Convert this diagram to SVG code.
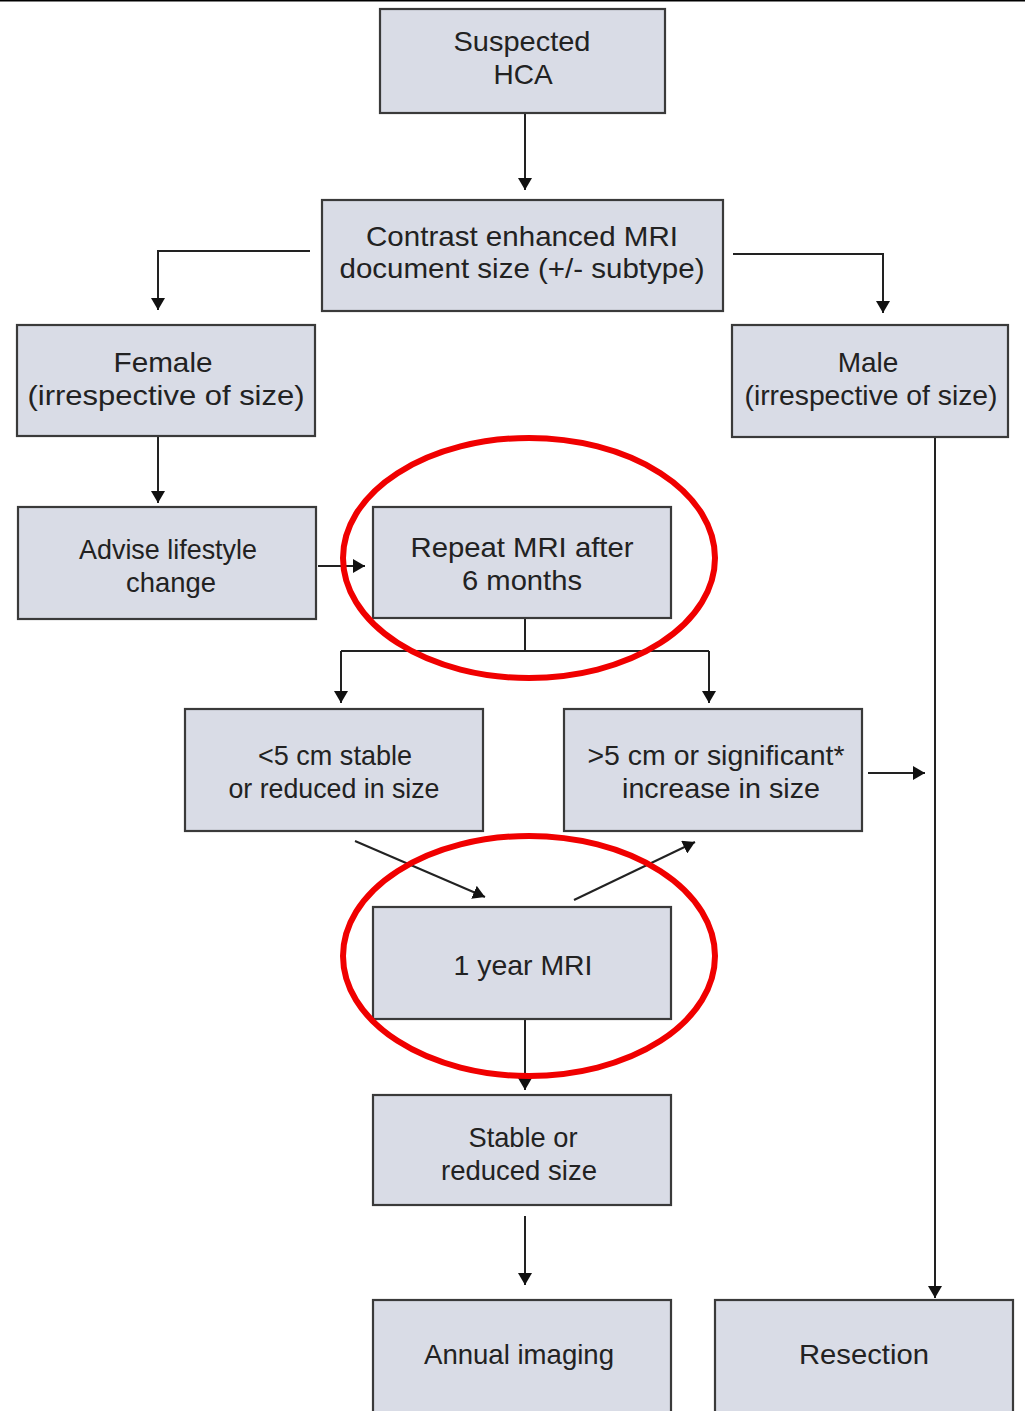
<svg xmlns="http://www.w3.org/2000/svg" width="1025" height="1411" viewBox="0 0 1025 1411">
<style>
.box{fill:#d9dce6;stroke:#3a3a3a;stroke-width:2.2}
.t{font-family:"Liberation Sans",Arial,sans-serif;font-size:28px;fill:#222;text-anchor:middle}
.c{fill:none;stroke:#222;stroke-width:2}
.ring{fill:none;stroke:#f00000;stroke-width:6}
</style>
<defs>
<marker id="ah" viewBox="0 0 12 14" refX="12" refY="7" markerWidth="12" markerHeight="14" markerUnits="userSpaceOnUse" orient="auto">
<path d="M0,0 L12,7 L0,14 Z" fill="#111"/>
</marker>
</defs>
<rect width="1025" height="1411" fill="#fff"/>
<line x1="0" y1="0.5" x2="1025" y2="0.5" stroke="#000" stroke-width="2"/>
<g id="connectors">
<path class="c" d="M525,114 V190" marker-end="url(#ah)"/>
<path class="c" d="M310,251 H158 V310" marker-end="url(#ah)"/>
<path class="c" d="M733,254 H883 V313" marker-end="url(#ah)"/>
<path class="c" d="M158,437 V503" marker-end="url(#ah)"/>
<path class="c" d="M318,566 H365" marker-end="url(#ah)"/>
<path class="c" d="M525,619 V651 M341,651 H709"/>
<path class="c" d="M341,651 V703" marker-end="url(#ah)"/>
<path class="c" d="M709,651 V703" marker-end="url(#ah)"/>
<path class="c" d="M868,773 H925" marker-end="url(#ah)"/>
<path class="c" d="M935,437 V1298" marker-end="url(#ah)"/>
<path class="c" d="M355,841 L485,897" marker-end="url(#ah)"/>
<path class="c" d="M574,900 L695,842" marker-end="url(#ah)"/>
<path class="c" d="M525,1020 V1090" marker-end="url(#ah)"/>
<path class="c" d="M525,1216 V1285" marker-end="url(#ah)"/>
</g>
<g id="n1"><rect class="box" x="380" y="9" width="285" height="104"/><text class="t" x="522" y="51" textLength="137" lengthAdjust="spacingAndGlyphs">Suspected</text><text class="t" x="523" y="84">HCA</text></g>
<g id="n2"><rect class="box" x="322" y="200" width="401" height="111"/><text class="t" x="522" y="246" textLength="312" lengthAdjust="spacingAndGlyphs">Contrast enhanced MRI</text><text class="t" x="522" y="278" textLength="365" lengthAdjust="spacingAndGlyphs">document size (+/- subtype)</text></g>
<g id="n3"><rect class="box" x="17" y="325" width="298" height="111"/><text class="t" x="163" y="372" textLength="99" lengthAdjust="spacingAndGlyphs">Female</text><text class="t" x="166" y="405" textLength="277" lengthAdjust="spacingAndGlyphs">(irrespective of size)</text></g>
<g id="n4"><rect class="box" x="732" y="325" width="276" height="112"/><text class="t" x="868" y="372">Male</text><text class="t" x="871" y="405" textLength="253" lengthAdjust="spacingAndGlyphs">(irrespective of size)</text></g>
<g id="n5"><rect class="box" x="18" y="507" width="298" height="112"/><text class="t" x="168" y="559" textLength="178" lengthAdjust="spacingAndGlyphs">Advise lifestyle</text><text class="t" x="171" y="592" textLength="90" lengthAdjust="spacingAndGlyphs">change</text></g>
<g id="n6"><rect class="box" x="373" y="507" width="298" height="111"/><text class="t" x="522" y="557" textLength="223" lengthAdjust="spacingAndGlyphs">Repeat MRI after</text><text class="t" x="522" y="590" textLength="120" lengthAdjust="spacingAndGlyphs">6 months</text></g>
<g id="n7"><rect class="box" x="185" y="709" width="298" height="122"/><text class="t" x="335" y="765" textLength="154" lengthAdjust="spacingAndGlyphs">&lt;5 cm stable</text><text class="t" x="334" y="798" textLength="211" lengthAdjust="spacingAndGlyphs">or reduced in size</text></g>
<g id="n8"><rect class="box" x="564" y="709" width="298" height="122"/><text class="t" x="716" y="765" textLength="257" lengthAdjust="spacingAndGlyphs">&gt;5 cm or significant*</text><text class="t" x="721" y="798" textLength="198" lengthAdjust="spacingAndGlyphs">increase in size</text></g>
<g id="n9"><rect class="box" x="373" y="907" width="298" height="112"/><text class="t" x="523" y="975" textLength="139" lengthAdjust="spacingAndGlyphs">1 year MRI</text></g>
<g id="n10"><rect class="box" x="373" y="1095" width="298" height="110"/><text class="t" x="523" y="1147" textLength="109" lengthAdjust="spacingAndGlyphs">Stable or</text><text class="t" x="519" y="1180" textLength="156" lengthAdjust="spacingAndGlyphs">reduced size</text></g>
<g id="n11"><rect class="box" x="373" y="1300" width="298" height="120"/><text class="t" x="519" y="1364" textLength="190" lengthAdjust="spacingAndGlyphs">Annual imaging</text></g>
<g id="n12"><rect class="box" x="715" y="1300" width="298" height="120"/><text class="t" x="864" y="1364" textLength="130" lengthAdjust="spacingAndGlyphs">Resection</text></g>
<g id="highlights">
<ellipse class="ring" cx="529" cy="558" rx="186" ry="120"/>
<ellipse class="ring" cx="529" cy="956" rx="186" ry="120"/>
</g>
</svg>
